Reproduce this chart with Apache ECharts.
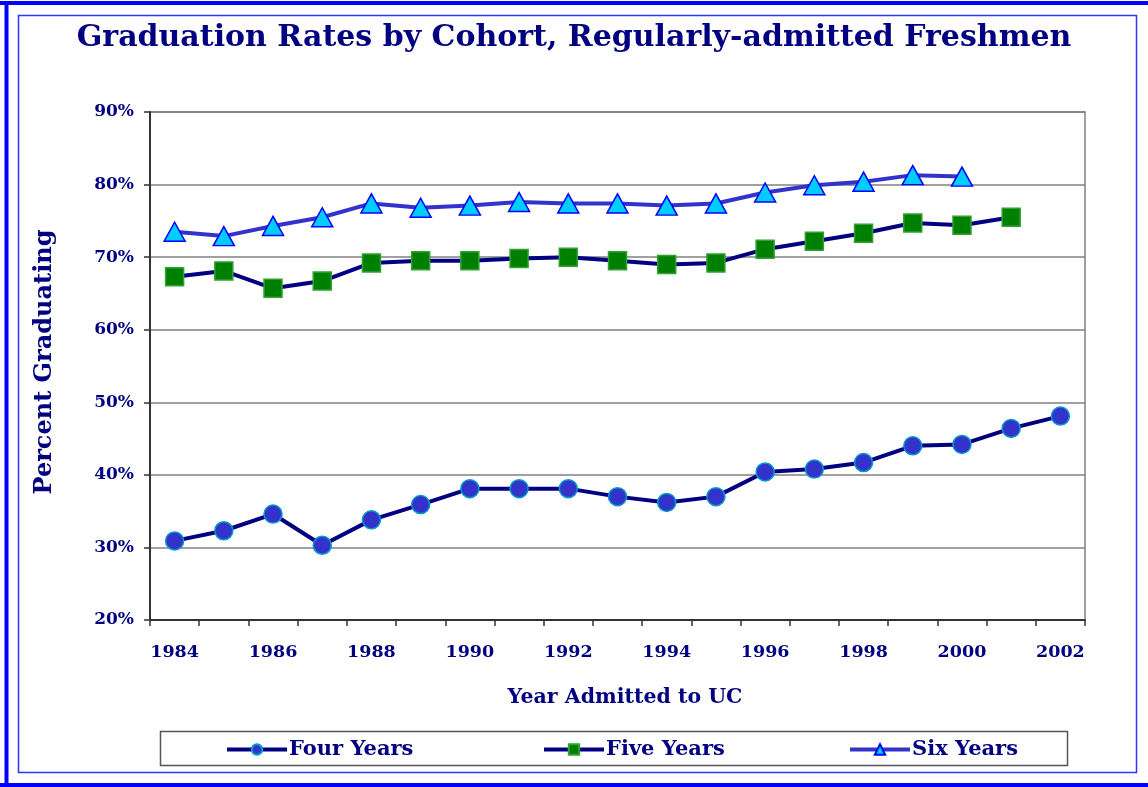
<!DOCTYPE html>
<html>
<head>
<meta charset="utf-8">
<script src="https://cdn.jsdelivr.net/npm/echarts@6/dist/echarts.min.js"></script>
<style>
    html, body {margin: 0; padding: 0; background: #fff;}
    #chart {width: 1148px; height: 787px;}
</style>
</head>
<body>
<div id="chart"></div>
<script>
// 入学年份
var years = ['1984', '1985', '1986', '1987', '1988', '1989', '1990', '1991', '1992', '1993',
    '1994', '1995', '1996', '1997', '1998', '1999', '2000', '2001', '2002'];
// 毕业率 (%)
var fourYears = [30.9, 32.3, 34.6, 30.3, 33.8, 35.9, 38.1, 38.1, 38.1, 37.0,
    36.2, 37.0, 40.4, 40.8, 41.7, 44.0, 44.2, 46.4, 48.1];
var fiveYears = [67.3, 68.1, 65.7, 66.7, 69.2, 69.5, 69.5, 69.8, 70.0, 69.5,
    69.0, 69.2, 71.1, 72.2, 73.3, 74.7, 74.4, 75.5];
var sixYears = [73.5, 72.9, 74.3, 75.5, 77.4, 76.8, 77.1, 77.6, 77.4, 77.4,
    77.1, 77.4, 78.9, 79.9, 80.4, 81.3, 81.1];

var navy = '#000080';
var font = 'DejaVu Serif';

var chart = echarts.init(document.getElementById('chart'));

function legendAt(name, left) {
    return {
        data: [name],
        left: left,
        top: 734,
        itemWidth: 60,
        itemHeight: 13,
        itemGap: 0,
        lineStyle: {width: 4},
        textStyle: {color: navy, fontFamily: font, fontWeight: 'bold', fontSize: 21, padding: [0, 0, 0, -3]}
    };
}

function blueLine(x1, y1, x2, y2, w) {
    return {type: 'line', shape: {x1: x1, y1: y1, x2: x2, y2: y2},
        style: {stroke: '#0000FF', lineWidth: w}, silent: true};
}

var option = {
    animation: false,
    backgroundColor: '#fff',
    title: {
        text: 'Graduation Rates by Cohort, Regularly-admitted Freshmen',
        left: 'center',
        top: 18,
        textStyle: {color: navy, fontFamily: font, fontWeight: 'bold', fontSize: 30}
    },
    grid: {
        left: 150,
        right: 63,
        top: 112,
        bottom: 167,
        show: true,
        borderColor: '#808080',
        borderWidth: 1.5
    },
    legend: [
        legendAt('Four Years', 220),
        legendAt('Five Years', 537),
        legendAt('Six Years', 843)
    ],
    graphic: [
        // 外框 (右侧在画面外)
        blueLine(0, 3, 1148, 3, 4),
        blueLine(6.5, 3, 6.5, 785, 4),
        blueLine(0, 785, 1148, 785, 4),
        {type: 'rect', shape: {x: 18.5, y: 15.5, width: 1118, height: 757},
            style: {fill: 'none', stroke: '#3333FF', lineWidth: 1.5}, silent: true},
        // 图例框
        {type: 'rect', shape: {x: 160.5, y: 731.5, width: 907, height: 34},
            style: {fill: 'none', stroke: '#555', lineWidth: 1.5}, silent: true}
    ],
    xAxis: {
        type: 'category',
        data: years,
        boundaryGap: true,
        name: 'Year Admitted to UC',
        nameLocation: 'middle',
        nameGap: 67,
        nameTextStyle: {color: navy, fontFamily: font, fontWeight: 'bold', fontSize: 20.5, padding: [0, 0, 0, 15]},
        axisLine: {lineStyle: {color: '#333', width: 2}},
        axisTick: {show: true, length: 6, interval: 0, lineStyle: {color: '#333', width: 1.5}},
        axisLabel: {interval: 1, color: navy, fontFamily: font, fontWeight: 'bold', fontSize: 17.5, margin: 23}
    },
    yAxis: {
        type: 'value',
        min: 20,
        max: 90,
        interval: 10,
        name: 'Percent Graduating',
        nameLocation: 'middle',
        nameRotate: 90,
        nameGap: 93,
        nameTextStyle: {color: navy, fontFamily: font, fontWeight: 'bold', fontSize: 24, padding: [0, 0, 0, 8]},
        axisLine: {show: true, lineStyle: {color: '#333', width: 2}},
        axisTick: {show: true, length: 6, lineStyle: {color: '#333', width: 1.5}},
        axisLabel: {formatter: '{value}%', color: navy, fontFamily: font, fontWeight: 'bold', fontSize: 17, margin: 16},
        splitLine: {lineStyle: {color: '#808080', width: 1.5}}
    },
    series: [
        {
            name: 'Four Years',
            type: 'line',
            data: fourYears,
            symbol: 'circle',
            symbolSize: 18,
            lineStyle: {color: navy, width: 4},
            itemStyle: {color: '#3333CC', borderColor: '#0099CC', borderWidth: 1.5}
        },
        {
            name: 'Five Years',
            type: 'line',
            data: fiveYears,
            symbol: 'rect',
            symbolSize: 18,
            lineStyle: {color: navy, width: 4},
            itemStyle: {color: '#008000', borderColor: '#33A033', borderWidth: 1.5}
        },
        {
            name: 'Six Years',
            type: 'line',
            data: sixYears,
            symbol: 'triangle',
            symbolSize: [21, 19],
            lineStyle: {color: '#3333CC', width: 4},
            itemStyle: {color: '#00CCFF', borderColor: '#0000FF', borderWidth: 1.5}
        }
    ]
};

chart.setOption(option);
</script>
</body>
</html>
